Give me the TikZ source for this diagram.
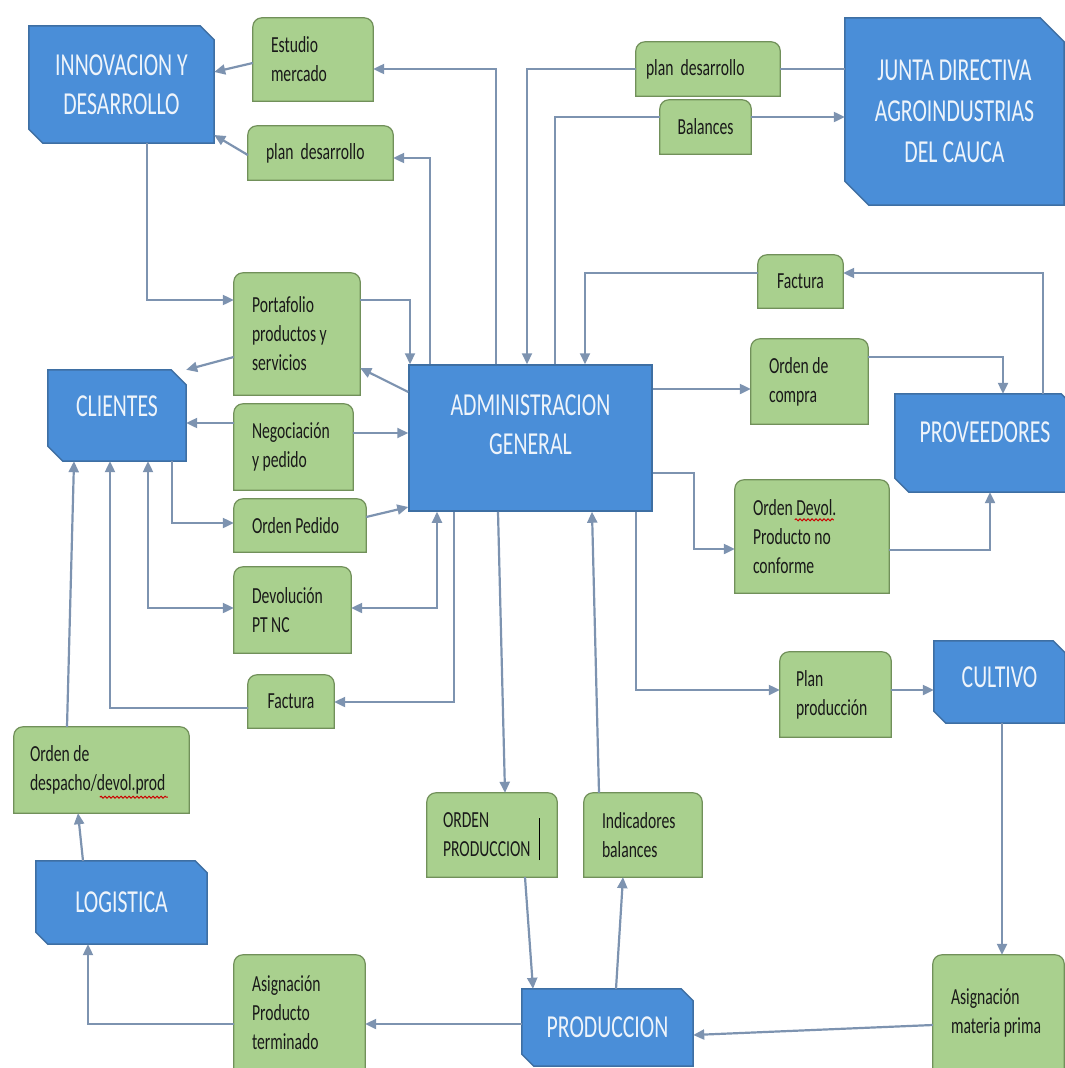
\documentclass[tikz,border=0pt]{standalone}
\usepackage{fontspec}
\setmainfont{Carlito}[FakeStretch=0.68]
\usepackage{xcolor}
\usetikzlibrary{arrows.meta, calc, backgrounds, decorations.pathmorphing}

\definecolor{boxblue}{HTML}{4A8ED8}
\definecolor{boxblueline}{HTML}{3E6FA3}
\definecolor{boxgreen}{HTML}{A9D08E}
\definecolor{boxgreenline}{HTML}{71905A}
\definecolor{linkcol}{HTML}{7D93B0}
\definecolor{lighttext}{HTML}{EEF4FB}

\begin{document}
\begin{tikzpicture}[
    x=1pt, y=-1pt,
    bbox/.style={align=center, inner sep=0pt, text=lighttext, font=\fontsize{32}{39}\selectfont},
    gbox/.style={align=flush left, inner xsep=18pt, inner ysep=0pt, font=\fontsize{23}{29}\selectfont, text=black!90},
    gboxc/.style={gbox, align=flush center, inner xsep=10pt},
    arr/.style={-{Triangle[length=11pt, width=10pt]}, line width=2.2pt, draw=linkcol},
    darr/.style={{Triangle[length=11pt, width=10pt]}-{Triangle[length=11pt, width=10pt]}, line width=2.2pt, draw=linkcol},
    ln/.style={line width=2.2pt, draw=linkcol},
    squig/.style={draw=red!80!black, line width=1pt, decorate, decoration={snake, amplitude=1pt, segment length=4pt}},
]
\useasboundingbox (0,0) rectangle (1065,1068);

% areas
\node[bbox, minimum width=185pt, minimum height=117pt] (innov) at (121.5,84.5) {INNOVACION Y\\DESARROLLO};
\node[bbox, minimum width=219pt, minimum height=187pt, font=\fontsize{32}{41}\selectfont] (junta) at (954.5,111.5) {JUNTA DIRECTIVA\\AGROINDUSTRIAS\\DEL CAUCA};
\node[bbox, minimum width=138pt, minimum height=91pt, text depth=18pt] (clientes) at (117,415.5) {CLIENTES};
\node[bbox, minimum width=243pt, minimum height=146pt, text depth=27pt, draw=boxblueline, fill=boxblue, line width=1.5pt] (admin) at (530.5,438) {ADMINISTRACION\\GENERAL};
\node[bbox, minimum width=180pt, minimum height=98pt, text depth=22pt] (proveed) at (985,443) {PROVEEDORES};
\node[bbox, minimum width=131pt, minimum height=82pt, text depth=10pt] (cultivo) at (999.5,682) {CULTIVO};
\node[bbox, minimum width=171pt, minimum height=83pt] (logist) at (121.5,902.5) {LOGISTICA};
\node[bbox, minimum width=171pt, minimum height=77pt] (produc) at (607.5,1027.5) {PRODUCCION};

% documentos
\node[gbox, text width=84pt, minimum height=83pt] (estudio) at (313,59.5) {Estudio\\mercado};
\node[gbox, text width=109pt, minimum height=54pt] (planL) at (320.5,153) {plan\ \ desarrollo};
\node[gbox, inner xsep=10pt, text width=124pt, minimum height=54pt] (plantop) at (708,69) {plan\ \ desarrollo};
\node[gboxc, text width=71pt, minimum height=54pt] (balances) at (705.5,127) {Balances};
\node[gbox, text width=90pt, minimum height=122pt] (portaf) at (297,334) {Portafolio\\productos y\\servicios};
\node[gbox, text width=83pt, minimum height=86pt] (negoc) at (293.5,447) {Negociación\\y pedido};
\node[gbox, text width=96pt, minimum height=53pt] (ordped) at (300,525.5) {Orden Pedido};
\node[gbox, text width=81pt, minimum height=86pt] (devol) at (292.5,610) {Devolución\\PT NC};
\node[gboxc, text width=66pt, minimum height=53pt] (factL) at (291,701.5) {Factura};
\node[gbox, inner xsep=16pt, text width=143pt, minimum height=86pt] (despacho) at (101.5,770) {Orden de\\despacho/devol.prod};
\node[gbox, text width=95pt, minimum height=115pt] (asignPT) at (299.5,1012.5) {Asignación\\Producto\\terminado};
\node[gboxc, text width=65pt, minimum height=53pt] (factR) at (800.5,281.5) {Factura};
\node[gbox, text width=81pt, minimum height=85pt] (ordcomp) at (809.5,381.5) {Orden de\\compra};
\node[gbox, text width=118pt, minimum height=113pt] (orddevol) at (812,536.5) {Orden Devol.\\Producto no\\conforme};
\node[gbox, inner xsep=16pt, text width=79pt, minimum height=85pt] (planprod) at (835.5,694.5) {Plan\\producción};
\node[gbox, inner xsep=16pt, text width=98pt, minimum height=84pt] (ordprod) at (492,835) {ORDEN\\PRODUCCION};
\node[gbox, text width=82pt, minimum height=84pt] (indic) at (643,835) {Indicadores\\balances};
\node[gbox, text width=95pt, minimum height=115pt] (asignMP) at (998.5,1012.5) {Asignación\\materia prima};

\begin{scope}[on background layer]
\foreach \n/\c in {innov/14pt, junta/24pt, clientes/15pt, proveed/14pt, cultivo/12pt, logist/12pt, produc/12pt}
  \filldraw[fill=boxblue, draw=boxblueline, line width=1.5pt]
    (\n.north west) -- ([xshift=-\c]\n.north east) -- ([yshift=-\c]\n.north east)
    -- (\n.south east) -- ([xshift=\c]\n.south west) -- ([yshift=\c]\n.south west) -- cycle;
\foreach \n in {estudio, planL, plantop, balances, portaf, negoc, ordped, devol, factL, despacho,
    asignPT, factR, ordcomp, orddevol, planprod, ordprod, indic, asignMP}
  \filldraw[fill=boxgreen, draw=boxgreenline, line width=1.2pt]
    (\n.south west) -- ([yshift=-9pt]\n.north west) arc[start angle=180, end angle=90, radius=9pt]
    -- ([xshift=-9pt]\n.north east) arc[start angle=90, end angle=0, radius=9pt] -- (\n.south east) -- cycle;
\end{scope}

% flujos
\draw[arr] (admin.north -| 496,0) |- (estudio.east |- 0,69);
\draw[arr] (admin.north -| 430,0) |- (planL.east |- 0,158);
\draw[arr] (estudio.west |- 0,63) -- (innov.east |- 0,72);
\draw[arr] (planL.west |- 0,155) -- (innov.east |- 0,135);
\draw[ln] (junta.west |- 0,69) -- (plantop.east);
\draw[arr] (plantop.west) -| (admin.north -| 527,0);
\draw[ln] (admin.north -| 555,0) |- (balances.west |- 0,117);
\draw[arr] (balances.east |- 0,117) -- (junta.west |- 0,117);
\draw[arr] (innov.south -| 147,0) |- (portaf.west |- 0,300);
\draw[arr] (portaf.east |- 0,300) -| (admin.north -| 410,0);
\draw[arr] (admin.west |- 0,392) -- (portaf.east |- 0,368);
\draw[arr] (portaf.west |- 0,357) -- (clientes.north east);
\draw[arr] (negoc.west |- 0,423) -- (clientes.east |- 0,423);
\draw[arr] (negoc.east |- 0,433) -- (admin.west |- 0,433);
\draw[arr] (clientes.south -| 172,0) |- (ordped.west |- 0,523);
\draw[arr] (ordped.east |- 0,517) -- (admin.west |- 0,507);
\draw[darr] (clientes.south -| 148,0) |- (devol.west |- 0,608);
\draw[darr] (admin.south -| 437,0) |- (devol.east |- 0,608);
\draw[arr] (admin.south -| 454,0) |- (factL.east |- 0,702);
\draw[arr] (factL.west |- 0,708) -| (clientes.south -| 110,0);
\draw[arr] (despacho.north -| 67,0) -- (clientes.south -| 74,0);
\draw[arr] (logist.north -| 83,0) -- (despacho.south -| 78,0);
\draw[arr] (asignPT.west |- 0,1024) -| (logist.south -| 88,0);
\draw[arr] (produc.west |- 0,1024) -- (asignPT.east |- 0,1024);
\draw[arr] (admin.south -| 498,0) -- (ordprod.north -| 505,0);
\draw[arr] (ordprod.south -| 525,0) -- (produc.north -| 533,0);
\draw[arr] (produc.north -| 616,0) -- (indic.south -| 623,0);
\draw[arr] (indic.north -| 599,0) -- (admin.south -| 592,0);
\draw[arr] (admin.east |- 0,389) -- (ordcomp.west |- 0,389);
\draw[arr] (ordcomp.east |- 0,357) -| (proveed.north -| 1003,0);
\draw[arr] (proveed.north -| 1043,0) |- (factR.east |- 0,273);
\draw[arr] (factR.west |- 0,273) -| (admin.north -| 585,0);
\draw[arr] (admin.east |- 0,473) -- ++(41,0) |- (orddevol.west |- 0,549);
\draw[arr] (orddevol.east |- 0,550) -| (proveed.south -| 990,0);
\draw[arr] (admin.south -| 636,0) |- (planprod.west |- 0,690);
\draw[arr] (planprod.east |- 0,690) -- (cultivo.west |- 0,690);
\draw[arr] (cultivo.south -| 1002,0) -- (asignMP.north -| 1002,0);
\draw[arr] (asignMP.west |- 0,1025) -- (produc.east |- 0,1035);

% marcas del texto
\draw[line width=1.2pt] ($(ordprod.south east)+(-18,-17)$) -- ++(0,-42);
\draw[squig] ($(despacho.south west)+(86,-16)$) -- ++(68,0);
\draw[squig] ($(orddevol.north west)+(60,40)$) -- ++(39,0);

\end{tikzpicture}
\end{document}
